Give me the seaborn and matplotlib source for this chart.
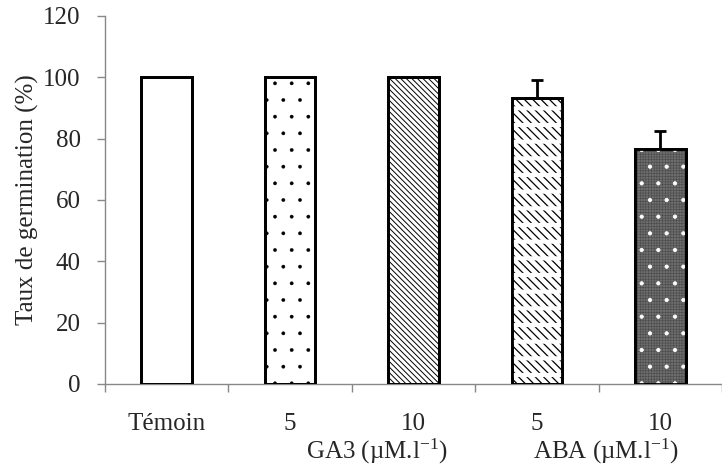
import matplotlib
matplotlib.use("Agg")
import matplotlib.pyplot as plt
from matplotlib.patches import Rectangle
from matplotlib.transforms import blended_transform_factory
import seaborn as sns
import pandas as pd

# ---- data ----
conditions = ["Témoin", "GA3 5", "GA3 10", "ABA 5", "ABA 10"]
tick_labels = ["Témoin", "5", "10", "5", "10"]
germination = [100.0, 100.0, 100.0, 93.3, 76.7]
errors = [0.0, 0.0, 0.0, 5.8, 5.8]
group_labels = ["GA3 (µM.l$^{-1}$)", "ABA (µM.l$^{-1}$)"]
group_positions = [1.707, 3.56]
y_ticks = [0, 20, 40, 60, 80, 100, 120]
y_label = "Taux de germination (%)"

sns.set_style("white")
plt.rcParams["font.family"] = ["Liberation Serif", "DejaVu Serif"]
plt.rcParams["mathtext.fontset"] = "custom"
plt.rcParams["mathtext.rm"] = "Liberation Serif"
plt.rcParams["mathtext.it"] = "Liberation Serif:italic"
plt.rcParams["mathtext.default"] = "rm"
plt.rcParams["hatch.linewidth"] = 0.8

FS = 18
fig = plt.figure(figsize=(7.22, 4.68), dpi=100)
ax = fig.add_axes([105 / 722, 84 / 468, 617 / 722, 368 / 468])

df = pd.DataFrame({"cond": conditions, "val": germination})
faces = ["white", "white", "white", "white", "#6d6d6d"]
palette = dict(zip(conditions, faces))
sns.barplot(data=df, x="cond", y="val", hue="cond", palette=palette,
            order=conditions, hue_order=conditions, width=0.41,
            edgecolor="black", linewidth=2.0, saturation=1,
            legend=False, errorbar=None, ax=ax, zorder=2)

bars = sorted(ax.patches, key=lambda p: p.get_x())
hatches = [None, ".", "\\" * 6, "\\" * 4, None]
hatch_lw = [None, 0.25, 0.7, 0.9, None]
for p, h, hl in zip(bars, hatches, hatch_lw):
    if h:
        p.set_hatch(h)
        if hasattr(p, "set_hatch_linewidth"):
            p.set_hatch_linewidth(hl)


def overlay(p, hatch, color, hlw=None):
    r = Rectangle(p.get_xy(), p.get_width(), p.get_height(), facecolor="none",
                  edgecolor=color, hatch=hatch, linewidth=0, zorder=3)
    if hlw is not None and hasattr(r, "set_hatch_linewidth"):
        r.set_hatch_linewidth(hlw)
    ax.add_patch(r)


def outline(p):
    ax.add_patch(Rectangle(p.get_xy(), p.get_width(), p.get_height(),
                           facecolor="none", edgecolor="black",
                           linewidth=2.0, zorder=4))


# dashed diagonal rows on bar 4: break diagonal hatch with white horizontal bands
overlay(bars[3], "-", "white", hlw=3.0)
# fine texture + white dots on the dark bar
overlay(bars[4], "++++++", "#4a4a4a", hlw=0.4)
overlay(bars[4], ".", "white", hlw=0.6)
for p in bars:
    outline(p)

# error bars (upper only)
xs = [p.get_x() + p.get_width() / 2 for p in bars]
ex = [x for x, e in zip(xs, errors) if e > 0]
ey = [v for v, e in zip(germination, errors) if e > 0]
ee = [e for e in errors if e > 0]
ax.errorbar(ex, ey, yerr=[[0] * len(ee), ee], fmt="none", ecolor="black",
            elinewidth=2.0, capsize=4.5, capthick=2.0, zorder=1)

# axes styling
ax.set_ylim(0, 120)
ax.set_xlim(-0.5, 4.416)
ax.set_yticks(y_ticks)
ax.set_yticklabels([str(t) for t in y_ticks], fontsize=FS)
ax.set_xticks(range(len(conditions)))
ax.set_xticklabels(tick_labels, fontsize=FS)
ax.set_xticks([i - 0.5 for i in range(len(conditions) + 1)], minor=True)
ax.tick_params(axis="x", which="major", length=0, pad=21)
ax.tick_params(axis="x", which="minor", length=5.5, width=1.0,
               color="#888888", direction="out", bottom=True)
ax.tick_params(axis="y", which="major", length=5.5, width=1.0,
               color="#888888", direction="out", left=True, pad=12)
ax.set_xlabel("")
ax.set_ylabel(y_label, fontsize=FS, labelpad=3)

for s in ["top", "right"]:
    ax.spines[s].set_visible(False)
for s in ["left", "bottom"]:
    ax.spines[s].set_color("#888888")
    ax.spines[s].set_linewidth(1.0)

trans = blended_transform_factory(ax.transData, ax.transAxes)
for lbl, xpos in zip(group_labels, group_positions):
    ax.annotate(lbl, xy=(xpos, 0), xycoords=trans, xytext=(0, -54),
                textcoords="offset points", ha="center", va="baseline",
                fontsize=FS, annotation_clip=False)

fig.savefig("out.png", dpi=100)
